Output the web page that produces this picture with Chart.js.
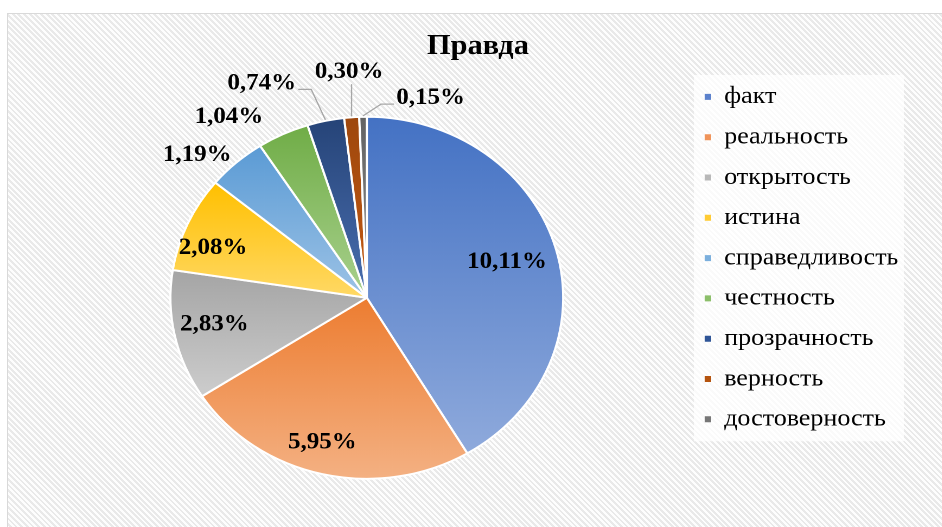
<!DOCTYPE html>
<html>
<head>
<meta charset="utf-8">
<script src="https://cdn.jsdelivr.net/npm/chart.js@4.4.1/dist/chart.umd.min.js"></script>
<style>
  html, body { margin: 0; padding: 0; width: 942px; height: 527px; overflow: hidden; background: #fff; }
  #frame {
    position: absolute; left: 7px; top: 13px; width: 940px; height: 520px;
    border: 1px solid #d9d9d9;
    background: repeating-linear-gradient(45deg, #fdfdfd 0px, #fdfdfd 2px, #e9e9e9 2px, #e9e9e9 4px);
  }
  /* the original picture is stretched a little horizontally */
  #wrap { position: absolute; left: 0; top: 0; width: 868px; height: 527px; transform: scaleX(1.085); transform-origin: 0 0; }
</style>
</head>
<body>
<div id="frame"></div>
<div id="wrap"><canvas id="pie_chart"></canvas></div>
<script>
  const labels = ["факт", "реальность", "открытость", "истина", "справедливость", "честность", "прозрачность", "верность", "достоверность"];
  const values = [10.11, 5.95, 2.83, 2.08, 1.19, 1.04, 0.74, 0.30, 0.15];
  const valueLabels = values.map((v) => v.toFixed(2).replace(".", ",") + "%");

  const darkColors = ["#4472c4", "#ed7d31", "#a5a5a5", "#ffc000", "#5b9bd5", "#70ad47", "#264478", "#9e480e", "#636363"];
  const lightColors = ["#8faadc", "#f4b183", "#cdcdcd", "#ffd966", "#9dc3e6", "#a9d18e", "#4a6fb0", "#c55a11", "#8c8c8c"];
  const legendColors = ["#5b81cc", "#f0945a", "#b8b8b8", "#ffcb33", "#7bafdd", "#8cbf6a", "#2f5597", "#b5540f", "#777777"];

  // where each value label sits: fraction of radius, angle shift in degrees, leader line
  const labelPlace = [
    { r: 0.74, shift: 0, line: false },
    { r: 0.83, shift: 2.7, line: false },
    { r: 0.79, shift: 1.3, line: false },
    { r: 0.83, shift: -4.8, line: false },
    { r: 1.17, shift: -5.9, line: false },
    { r: 1.22, shift: -9.9, line: false },
    { r: 1.30, shift: -12.2, line: true },
    { r: 1.25, shift: 0.3, line: true },
    { r: 1.15, shift: 17.5, line: true },
  ];

  const pieRadius = 181;

  function sliceFill(context) {
    const i = context.dataIndex;
    const area = context.chart.chartArea;
    if (!area) return darkColors[i];
    const cy = (area.top + area.bottom) / 2;
    const total = values.reduce((acc, v) => acc + v, 0);
    let before = 0;
    for (let k = 0; k < i; k++) before += values[k];
    const a0 = -Math.PI / 2 + (before / total) * 2 * Math.PI;
    const a1 = a0 + (values[i] / total) * 2 * Math.PI;
    const ys = [cy, cy + Math.sin(a0) * pieRadius, cy + Math.sin(a1) * pieRadius];
    if (a0 < Math.PI / 2 && a1 > Math.PI / 2) ys.push(cy + pieRadius);
    const g = context.chart.ctx.createLinearGradient(0, Math.min(...ys), 0, Math.max(...ys));
    g.addColorStop(0, darkColors[i]);
    g.addColorStop(1, lightColors[i]);
    return g;
  }

  const legendBack = {
    id: "legendBack",
    beforeDraw(chart) {
      const hb = chart.legend && chart.legend.legendHitBoxes;
      if (!hb || !hb.length) return;
      const left = Math.min(...hb.map((b) => b.left)) - 10;
      const right = Math.max(...hb.map((b) => b.left + b.width)) + 5;
      const top = Math.min(...hb.map((b) => b.top)) - 10;
      const bottom = Math.max(...hb.map((b) => b.top + b.height)) + 10;
      const ctx = chart.ctx;
      ctx.save();
      ctx.fillStyle = "rgba(255,255,255,0.75)";
      ctx.fillRect(left, top, right - left, bottom - top);
      ctx.restore();
    },
  };

  const pieLabels = {
    id: "pieLabels",
    afterDatasetsDraw(chart) {
      const ctx = chart.ctx;
      const arcs = chart.getDatasetMeta(0).data;
      ctx.save();
      ctx.font = 'bold 23px "Liberation Serif", serif';
      ctx.textAlign = "center";
      ctx.textBaseline = "middle";
      arcs.forEach((arc, i) => {
        const p = arc.getProps(["x", "y", "startAngle", "endAngle", "outerRadius"], true);
        const place = labelPlace[i];
        const mid = (p.startAngle + p.endAngle) / 2;
        const a = mid + (place.shift * Math.PI) / 180;
        const lx = p.x + Math.cos(a) * p.outerRadius * place.r;
        const ly = p.y + Math.sin(a) * p.outerRadius * place.r;
        const text = valueLabels[i];
        if (place.line) {
          const w = ctx.measureText(text).width;
          const px = p.x + Math.cos(mid) * (p.outerRadius + 1);
          const py = p.y + Math.sin(mid) * (p.outerRadius + 1);
          ctx.strokeStyle = "#a6a6a6";
          ctx.lineWidth = 1.2;
          ctx.beginPath();
          if (lx + w / 2 < px - 6) {
            ctx.moveTo(lx + w / 2 + 2, ly + 6);
            ctx.lineTo(lx + w / 2 + 14, ly + 6);
          } else if (lx - w / 2 > px + 6) {
            ctx.moveTo(lx - w / 2 - 2, ly + 6);
            ctx.lineTo(lx - w / 2 - 14, ly + 6);
          } else {
            ctx.moveTo(px, ly + 12);
          }
          ctx.lineTo(px, py);
          ctx.stroke();
        }
        ctx.fillStyle = "#000";
        ctx.fillText(text, lx, ly);
      });
      ctx.restore();
    },
  };

  const grapharea = document.getElementById("pie_chart");

  new Chart(grapharea, {
    type: "pie",
    data: {
      labels: labels,
      datasets: [
        {
          data: values,
          backgroundColor: sliceFill,
          borderColor: "#ffffff",
          borderWidth: 2,
          radius: pieRadius,
        },
      ],
    },
    options: {
      responsive: true,
      maintainAspectRatio: false,
      animation: false,
      devicePixelRatio: 2,
      layout: { padding: { left: 43, right: 30, top: 14, bottom: 0 } },
      plugins: {
        title: {
          display: true,
          text: "Правда",
          color: "#000",
          font: { family: '"Liberation Serif", serif', size: 28, weight: "bold" },
          padding: { top: 16, bottom: 5 },
        },
        legend: {
          position: "right",
          align: "start",
          fullSize: false,
          labels: {
            boxWidth: 6,
            boxHeight: 6,
            padding: 16.3,
            color: "#000",
            font: { family: '"Liberation Serif", serif', size: 24 },
            generateLabels(chart) {
              return Chart.overrides.doughnut.plugins.legend.labels
                .generateLabels(chart)
                .map((item, i) => Object.assign(item, { fillStyle: legendColors[i], strokeStyle: legendColors[i], lineWidth: 0 }));
            },
          },
        },
        tooltip: { enabled: false },
      },
    },
    plugins: [legendBack, pieLabels],
  });
</script>
</body>
</html>
